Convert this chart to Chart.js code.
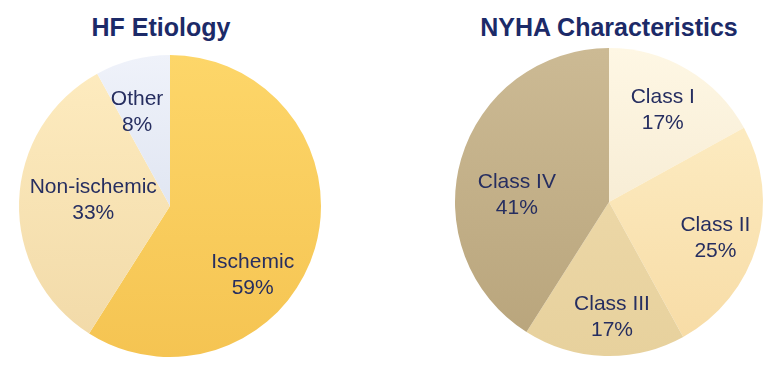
<!DOCTYPE html>
<html>
<head>
<meta charset="utf-8">
<script src="https://cdn.jsdelivr.net/npm/chart.js@4.4.1/dist/chart.umd.min.js"></script>
<style>
  body { margin: 0; background: #fff; width: 783px; height: 378px; position: relative; overflow: hidden;
         font-family: "Liberation Sans", Arial, sans-serif; }
  .box { position: absolute; top: 0; width: 340px; height: 378px; }
  .title { position: absolute; top: 12px; width: 400px; text-align: center; font-size: 25px; line-height: 30px;
           font-weight: bold; color: #1c2a68; }
</style>
</head>
<body>
<div class="title" style="left:-39px">HF Etiology</div>
<div class="title" style="left:409px">NYHA Characteristics</div>
<div class="box" style="left:0px"><canvas id="chartEtiology"></canvas></div>
<div class="box" style="left:439px"><canvas id="chartNyha"></canvas></div>
<script>
// data
var etiologyLabels = ['Ischemic', 'Non-ischemic', 'Other'];
var etiologyValues = [59, 33, 8];
var nyhaLabels = ['Class I', 'Class II', 'Class III', 'Class IV'];
var nyhaValues = [17, 25, 17, 41];

// styles (top / bottom of each slice gradient)
var etiologyColors = [['#fdd669', '#f5c452'], ['#feecc0', '#f1d9a7'], ['#eff2fa', '#d2daea']];
var nyhaColors = [['#fef7e4', '#f1e3c7'], ['#fef0ca', '#f7dba4'], ['#f1ddb0', '#e7d19d'], ['#ccba94', '#b8a47b']];
// label spots: angle clockwise from top (deg), distance as part of radius
var etiologyLabelAt = [[130, 0.715], [274.5, 0.51], [340.7, 0.66]];
var nyhaLabelAt = [[30.4, 0.69], [108.8, 0.73], [178.5, 0.75], [274.4, 0.6]];

var labelColor = '#262e60';

function gradFill(colors) {
  return function (context) {
    var chart = context.chart;
    var area = chart.chartArea;
    if (!area) return colors[context.dataIndex][0];
    var g = chart.ctx.createLinearGradient(0, area.top, 0, area.bottom);
    g.addColorStop(0, colors[context.dataIndex][0]);
    g.addColorStop(1, colors[context.dataIndex][1]);
    return g;
  };
}

const sliceLabels = {
  id: 'sliceLabels',
  afterDatasetsDraw(chart, args, opts) {
    var ctx = chart.ctx;
    var meta = chart.getDatasetMeta(0);
    var ds = chart.data.datasets[0];
    ctx.save();
    ctx.font = '21px "Liberation Sans", Arial, sans-serif';
    ctx.fillStyle = labelColor;
    ctx.textAlign = 'center';
    ctx.textBaseline = 'middle';
    meta.data.forEach(function (arc, i) {
      var spot = opts.spots[i];
      var a = spot[0] * Math.PI / 180;
      var d = spot[1] * arc.outerRadius;
      var x = arc.x + Math.sin(a) * d;
      var y = arc.y - Math.cos(a) * d;
      ctx.fillText(chart.data.labels[i], x, y - 13);
      ctx.fillText(ds.data[i] + '%', x, y + 13);
    });
    ctx.restore();
  }
};

function makePie(id, labels, values, colors, spots, topPad, bottomPad) {
  return new Chart(document.getElementById(id).getContext('2d'), {
    type: 'pie',
    data: {
      labels: labels,
      datasets: [{
        data: values,
        backgroundColor: gradFill(colors),
        borderWidth: 0
      }]
    },
    plugins: [sliceLabels],
    options: {
      responsive: true,
      maintainAspectRatio: false,
      animation: false,
      layout: { padding: { top: topPad, bottom: bottomPad } },
      plugins: {
        legend: { display: false },
        tooltip: { enabled: false },
        sliceLabels: { spots: spots }
      }
    }
  });
}

makePie('chartEtiology', etiologyLabels, etiologyValues, etiologyColors, etiologyLabelAt, 55, 21);
makePie('chartNyha', nyhaLabels, nyhaValues, nyhaColors, nyhaLabelAt, 48, 22);
</script>
</body>
</html>
